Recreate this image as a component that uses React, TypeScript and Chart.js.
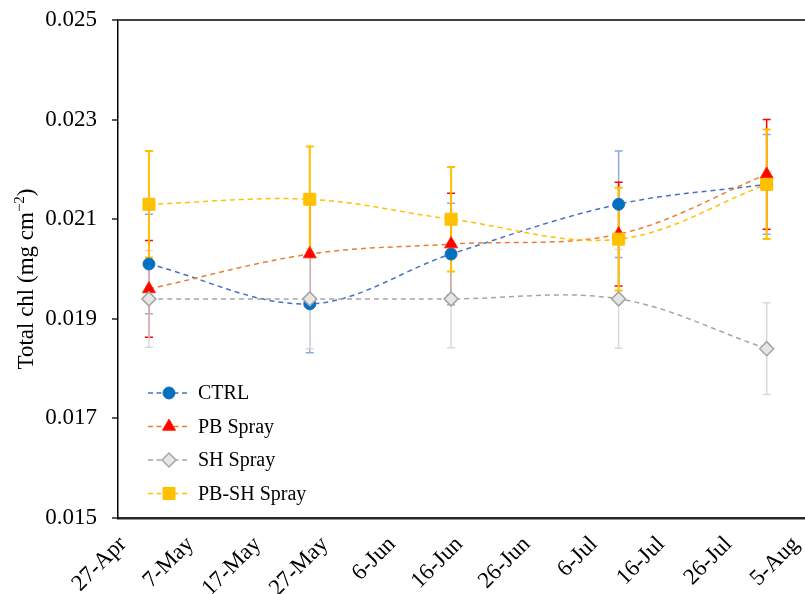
import React, { useEffect, useRef } from "react";
import { Chart, registerables } from "chart.js";

Chart.register(...registerables);

// ---- data ----
const tickLabels = ["27-Apr", "7-May", "17-May", "27-May", "6-Jun", "16-Jun", "26-Jun", "6-Jul", "16-Jul", "26-Jul", "5-Aug"];
// sampling dates, as days after 27-Apr
const sampleDays = [4.6, 28.5, 49.5, 74.4, 96.4];
const seriesNames = ["CTRL", "PB Spray", "SH Spray", "PB-SH Spray"];
const ctrlValues = [0.0201, 0.0193, 0.0203, 0.0213, 0.0217];
const ctrlErrors = [0.001, 0.00098, 0.00102, 0.00107, 0.001];
const pbValues = [0.0196, 0.0203, 0.0205, 0.0207, 0.0219];
const pbErrors = [0.00097, 0.001, 0.00102, 0.00104, 0.0011];
const shValues = [0.0194, 0.0194, 0.0194, 0.0194, 0.0184];
const shErrors = [0.00097, 0.001, 0.00098, 0.00099, 0.00092];
const pbshValues = [0.0213, 0.0214, 0.021, 0.0206, 0.0217];
const pbshErrors = [0.00107, 0.00106, 0.00105, 0.00103, 0.0011];

const allValues = [ctrlValues, pbValues, shValues, pbshValues];
const allErrors = [ctrlErrors, pbErrors, shErrors, pbshErrors];

// ---- styles ----
const lineColors = ["#4472C4", "#ED7D31", "#A5A5A5", "#FFC000"];
const markerStyles = ["circle", "triangle", "rectRot", "rect"];
const markerRadius = [6, 7.5, 7, 8.5];
const markerFill = ["#0070C0", "#FF0000", "#E7E6E6", "#FFC000"];
const markerStroke = ["#1F6FC0", "#FF2A00", "#A5A5A5", "#FFC000"];
const markerStrokeWidth = [1, 1, 1.5, 1];
const errColors = ["#8FAADC", "#FF0000", "#D9D9D9", "#FFC000"];
const errWidths = [1.5, 1.5, 1.5, 2];

const SERIF = "'Liberation Serif', 'Times New Roman', serif";

function drawMarker(ctx: CanvasRenderingContext2D, style: string, x: number, y: number, r: number) {
  ctx.beginPath();
  if (style === "circle") {
    ctx.arc(x, y, r, 0, Math.PI * 2);
  } else if (style === "triangle") {
    let rad = 0;
    ctx.moveTo(x + Math.sin(rad) * r, y - Math.cos(rad) * r);
    rad += (2 * Math.PI) / 3;
    ctx.lineTo(x + Math.sin(rad) * r, y - Math.cos(rad) * r);
    rad += (2 * Math.PI) / 3;
    ctx.lineTo(x + Math.sin(rad) * r, y - Math.cos(rad) * r);
    ctx.closePath();
  } else if (style === "rectRot") {
    ctx.moveTo(x - r, y);
    ctx.lineTo(x, y - r);
    ctx.lineTo(x + r, y);
    ctx.lineTo(x, y + r);
    ctx.closePath();
  } else {
    const s = Math.SQRT1_2 * r;
    ctx.rect(x - s, y - s, 2 * s, 2 * s);
  }
}

const errorBarPlugin = {
  id: "errorBars",
  beforeDatasetsDraw(chart: any) {
    const ctx: CanvasRenderingContext2D = chart.ctx;
    const yScale = chart.scales.y;
    const area = chart.chartArea;
    ctx.save();
    ctx.beginPath();
    ctx.rect(area.left, area.top, area.right - area.left, area.bottom - area.top);
    ctx.clip();
    allValues.forEach((vals, i) => {
      const meta = chart.getDatasetMeta(i);
      ctx.strokeStyle = errColors[i];
      ctx.lineWidth = errWidths[i];
      ctx.setLineDash([]);
      vals.forEach((v, j) => {
        const pt = meta.data[j];
        if (!pt) return;
        const x = pt.x;
        const yt = yScale.getPixelForValue(v + allErrors[i][j]);
        const yb = yScale.getPixelForValue(v - allErrors[i][j]);
        ctx.beginPath();
        ctx.moveTo(x, yt);
        ctx.lineTo(x, yb);
        ctx.moveTo(x - 4, yt);
        ctx.lineTo(x + 4, yt);
        ctx.moveTo(x - 4, yb);
        ctx.lineTo(x + 4, yb);
        ctx.stroke();
      });
    });
    ctx.restore();
  },
};

const legendAndTitlePlugin = {
  id: "customLegendTitle",
  afterDraw(chart: any) {
    const ctx: CanvasRenderingContext2D = chart.ctx;
    const area = chart.chartArea;
    ctx.save();
    // legend inside the plot, lower left
    const x0 = area.left + 30;
    const x1 = area.left + 72;
    const xm = (x0 + x1) / 2;
    const tx = area.left + 80;
    const rowY = [area.bottom - 125, area.bottom - 91.5, area.bottom - 58, area.bottom - 24.5];
    seriesNames.forEach((name, i) => {
      const y = rowY[i];
      ctx.strokeStyle = lineColors[i];
      ctx.lineWidth = 1.5;
      ctx.setLineDash([5, 3.5]);
      ctx.beginPath();
      ctx.moveTo(x0, y);
      ctx.lineTo(x1, y);
      ctx.stroke();
      ctx.setLineDash([]);
      drawMarker(ctx, markerStyles[i], xm, y, markerRadius[i]);
      ctx.fillStyle = markerFill[i];
      ctx.fill();
      ctx.strokeStyle = markerStroke[i];
      ctx.lineWidth = markerStrokeWidth[i];
      ctx.stroke();
      ctx.fillStyle = "#000";
      ctx.font = `20px ${SERIF}`;
      ctx.textAlign = "left";
      ctx.textBaseline = "middle";
      ctx.fillText(name, tx, y + 1);
    });

    // y axis title with superscript
    const main = "Total chl (mg cm";
    const sup = "\u22122";
    const end = ")";
    const mainFont = `23px ${SERIF}`;
    const supFont = `15px ${SERIF}`;
    ctx.font = mainFont;
    const wMain = ctx.measureText(main).width;
    const wEnd = ctx.measureText(end).width;
    ctx.font = supFont;
    const wSup = ctx.measureText(sup).width;
    const total = wMain + wSup + wEnd;
    const cy = (area.top + area.bottom) / 2 + 10;
    ctx.translate(33, cy);
    ctx.rotate(-Math.PI / 2);
    ctx.fillStyle = "#000";
    ctx.textAlign = "left";
    ctx.textBaseline = "alphabetic";
    let cx = -total / 2;
    ctx.font = mainFont;
    ctx.fillText(main, cx, 0);
    cx += wMain;
    ctx.font = supFont;
    ctx.fillText(sup, cx, -9);
    cx += wSup;
    ctx.font = mainFont;
    ctx.fillText(end, cx, 0);
    ctx.restore();
  },
};

export default function App() {
  const canvasRef = useRef<HTMLCanvasElement | null>(null);

  useEffect(() => {
    if (!canvasRef.current) return;
    const datasets = allValues.map((vals, i) => ({
      label: seriesNames[i],
      data: sampleDays.map((d, j) => ({ x: d, y: vals[j] })),
      borderColor: lineColors[i],
      backgroundColor: markerFill[i],
      borderWidth: 1.5,
      borderDash: [5, 4],
      tension: 0.35,
      fill: false,
      pointStyle: markerStyles[i],
      pointRadius: markerRadius[i],
      pointBackgroundColor: markerFill[i],
      pointBorderColor: markerStroke[i],
      pointBorderWidth: markerStrokeWidth[i],
      order: 4 - i,
    }));

    const chart = new Chart(canvasRef.current, {
      type: "line",
      data: { datasets },
      options: {
        animation: false,
        responsive: false,
        maintainAspectRatio: false,
        layout: { padding: { top: 20, left: 0, right: 0, bottom: 0 } },
        plugins: {
          legend: { display: false },
          tooltip: { enabled: false },
        },
        scales: {
          x: {
            type: "linear",
            min: 0,
            max: 104.4,
            afterBuildTicks: (scale: any) => {
              const t = [];
              for (let v = 0; v <= 100; v += 10) t.push({ value: v });
              scale.ticks = t;
            },
            afterFit: (scale: any) => {
              scale.height = 76;
              scale.paddingLeft = 0;
              scale.paddingRight = 0;
            },
            grid: { display: false, drawTicks: false },
            border: { display: true, color: "#262626", width: 2.5 },
            ticks: {
              autoSkip: false,
              minRotation: 45,
              maxRotation: 45,
              padding: 13,
              labelOffset: 5,
              color: "#000",
              font: { family: SERIF, size: 23 },
              callback: (v: any) => tickLabels[Math.round(Number(v) / 10)] ?? "",
            },
          },
          y: {
            min: 0.015,
            max: 0.025,
            afterFit: (scale: any) => {
              scale.width = 118;
              scale.paddingTop = 0;
              scale.paddingBottom = 0;
            },
            grid: {
              drawOnChartArea: true,
              color: (c: any) => (c.tick && Math.abs(c.tick.value - 0.025) < 1e-9 ? "#404040" : "rgba(0,0,0,0)"),
              lineWidth: 2,
              tickColor: "#262626",
              tickLength: 6,
              tickWidth: 1.5,
            },
            border: { display: true, color: "#000", width: 1.5 },
            ticks: {
              stepSize: 0.002,
              padding: 15,
              color: "#000",
              font: { family: SERIF, size: 23 },
              callback: (v: any) => Number(v).toFixed(3),
            },
          },
        },
      },
      plugins: [errorBarPlugin, legendAndTitlePlugin],
    } as any);

    return () => chart.destroy();
  }, []);

  return (
    <div style={{ position: "absolute", left: 0, top: 0, width: 805, height: 594, overflow: "hidden", background: "#fff" }}>
      <canvas ref={canvasRef} width={830} height={594} style={{ display: "block" }} />
    </div>
  );
}
